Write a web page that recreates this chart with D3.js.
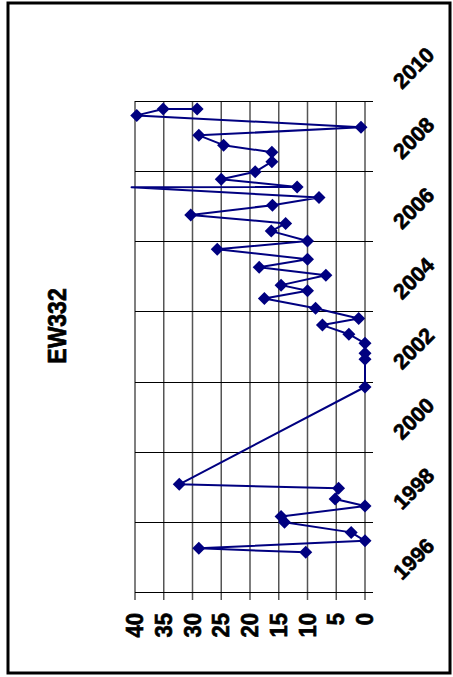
<!DOCTYPE html>
<html><head><meta charset="utf-8">
<script src="https://cdn.jsdelivr.net/npm/d3@7"></script>
<style>html,body{margin:0;padding:0;background:#fff;}svg{display:block;}</style>
</head><body>
<script>
const title = "EW332";
const dates = [1997.13, 1997.245, 1997.46, 1997.70, 1997.99, 1998.15, 1998.45, 1998.65, 1998.96, 1999.07,
  2001.845, 2002.635, 2002.81, 2003.09, 2003.35, 2003.61, 2003.80, 2004.09, 2004.37, 2004.59,
  2004.75, 2005.03, 2005.26, 2005.49, 2005.77, 2006.01, 2006.29, 2006.51, 2006.75, 2007.03,
  2007.25, 2007.54, 2007.55, 2007.77, 2007.98, 2008.27, 2008.54, 2008.74, 2009.02, 2009.25,
  2009.59, 2009.77, 2009.77];
const values = [10.3, 28.9, 0, 2.4, 14.0, 14.6, 0, 5.2, 4.6, 32.3,
  0, 0, 0, 0, 2.8, 7.4, 1.1, 8.6, 17.5, 10.0,
  14.6, 6.8, 18.4, 10.0, 25.7, 10.0, 16.3, 13.8, 30.3, 16.1,
  8.0, 40.6, 11.8, 25.0, 19.1, 16.2, 16.2, 24.6, 28.9, 0.7,
  39.7, 35.1, 29.2];
const valueTicks = [0, 5, 10, 15, 20, 25, 30, 35, 40];
const yearTicks = [1996, 1998, 2000, 2002, 2004, 2006, 2008, 2010];

const W = 453, H = 677;
const svg = d3.select("body").append("svg").attr("width", W).attr("height", H);
svg.append("rect").attr("x", 0).attr("y", 0).attr("width", W).attr("height", H).attr("fill", "#fff");
svg.append("rect").attr("x", 8).attr("y", 3).attr("width", 442).attr("height", 670)
  .attr("fill", "none").attr("stroke", "#000").attr("stroke-width", 3);

const x = d3.scaleLinear().domain([0, 40]).range([365, 135]);
const y = d3.scaleLinear().domain([1996, 2010]).range([592, 101]);
const font = "'Liberation Sans', Arial, sans-serif";

// vertical gridlines (value)
svg.append("g").selectAll("line").data(valueTicks).join("line")
  .attr("x1", d => x(d)).attr("x2", d => x(d))
  .attr("y1", y(2010)).attr("y2", y(1996) + 8)
  .attr("stroke", "#555").attr("stroke-width", 1.5);
// horizontal gridlines (year)
svg.append("g").selectAll("line").data(yearTicks).join("line")
  .attr("x1", x(40)).attr("x2", x(0) + 8)
  .attr("y1", d => Math.round(y(d)) + 0.5).attr("y2", d => Math.round(y(d)) + 0.5)
  .attr("stroke", "#000").attr("stroke-width", 1);

function boldText(sel, size) {
  sel.style("font-family", font).style("font-weight", "bold").style("font-size", size + "px")
    .attr("fill", "#000").attr("stroke", "#000").attr("stroke-width", 0.6);
}

// value labels
svg.append("g").selectAll("text").data(valueTicks).join("text")
  .attr("transform", d => `translate(${x(d) + 8},${y(1996) + 21}) scale(1.1,1) rotate(-90)`)
  .attr("text-anchor", "end")
  .call(boldText, 22)
  .text(d => d);

// year labels
svg.append("g").selectAll("text").data(yearTicks).join("text")
  .attr("transform", d => `translate(${x(0) + 37},${y(d) - 11}) rotate(-45)`)
  .attr("text-anchor", "start")
  .call(boldText, 21.5)
  .text(d => d);

// title
svg.append("text")
  .attr("transform", `translate(66,326) scale(1.15,1) rotate(-90)`)
  .attr("text-anchor", "middle")
  .call(boldText, 23)
  .text(title);

const pts = dates.map((d, i) => ({ d, v: values[i] }));
const line = d3.line().x(p => x(p.v)).y(p => y(p.d));
svg.append("path").datum(pts).attr("d", line)
  .attr("fill", "none").attr("stroke", "#000080").attr("stroke-width", 2)
  .attr("stroke-linejoin", "round");

svg.append("g").selectAll("path").data(pts.filter(p => p.v <= 40)).join("path")
  .attr("transform", p => `translate(${x(p.v)},${y(p.d)})`)
  .attr("d", "M0,-6.5L6.5,0L0,6.5L-6.5,0Z")
  .attr("fill", "#000080");
</script>
</body></html>
